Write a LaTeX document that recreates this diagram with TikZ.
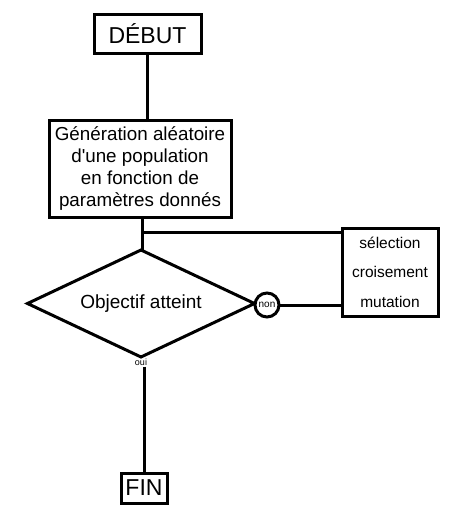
\documentclass[tikz,border=0pt]{standalone}
\usepackage{fontspec}
\setmainfont{Liberation Sans}[Ligatures=TeXOff]
\usetikzlibrary{shapes.geometric, positioning, calc}

\begin{document}
\begin{tikzpicture}[x=1pt, y=-1pt,
  boite/.style={rectangle, draw=black, line width=3pt, fill=white,
                inner sep=0pt, outer sep=0pt, text centered, align=center},
  test/.style={diamond, aspect=2.12, draw=black, line width=3pt, fill=white,
               inner sep=0pt, outer sep=0pt},
  rond/.style={circle, draw=black, line width=3pt, fill=white,
               inner sep=0pt, outer sep=0pt, minimum size=24pt, font=\fontsize{10}{10}\selectfont},
  lien/.style={line width=3pt}]

  \useasboundingbox (0,0) rectangle (472,525);

  \node[boite, minimum width=107pt, minimum height=39pt, font=\fontsize{23}{27}\selectfont]
    at (147.5, 33.5) (debut) {DÉBUT};

  \node[boite, minimum width=182pt, minimum height=97pt, font=\fontsize{18.8}{22}\selectfont]
    at (140, 168.5) (gen)
    {Génération aléatoire\\d'une population\\en fonction de\\paramètres donnés};

  \node[boite, minimum width=96pt, minimum height=88pt, font=\fontsize{15.5}{29.5}\selectfont]
    at (390, 272) (ops) {sélection\\croisement\\mutation};

  \node[test, minimum width=227pt, minimum height=107pt, font=\fontsize{19}{22}\selectfont]
    at (141, 303.5) (obj) {\raisebox{-1.5pt}{Objectif atteint}};

  \node[rond] at (267, 305) (non) {non};

  \node[font=\fontsize{9}{9}\selectfont, inner sep=1pt] at (141, 362) (oui) {oui};

  \node[boite, minimum width=46pt, minimum height=30pt, font=\fontsize{23}{27}\selectfont]
    at (144, 488) (fin) {FIN};

  \coordinate (split) at (142, 232);

  \draw[lien] (debut.south) -- (debut.south |- gen.north);
  \draw[lien] (gen.south -| split) -- (obj.north -| split);
  \draw[lien] (split) -- (split -| ops.west);
  \draw[lien] (non.east) -- (non.east -| ops.west);
  \draw[lien] (oui.south -| fin) -- (fin.north);

\end{tikzpicture}
\end{document}
